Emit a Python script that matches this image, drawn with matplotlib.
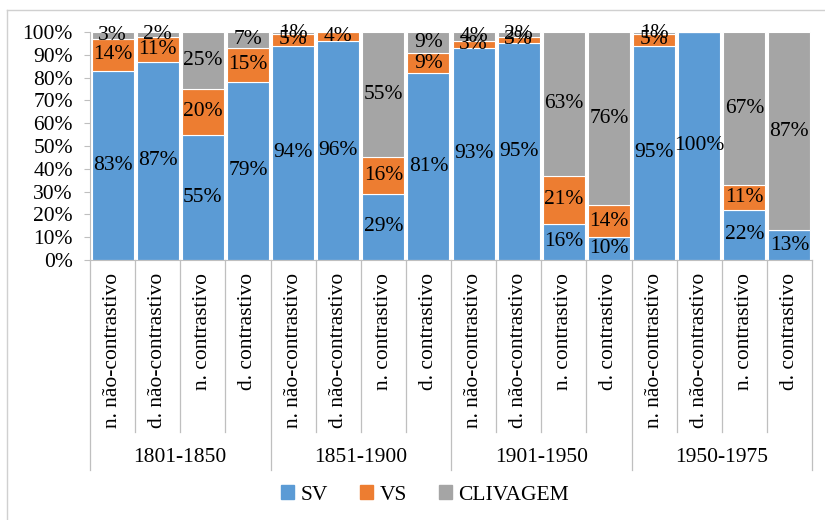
import numpy as np
import matplotlib.pyplot as plt
from matplotlib.patches import Patch
from matplotlib.lines import Line2D

plt.rcParams['font.family'] = ['Liberation Serif', 'DejaVu Serif']

# Data (percent)
groups = ['1801-1850', '1851-1900', '1901-1950', '1950-1975']
cats = ['n. não-contrastivo', 'd. não-contrastivo', 'n. contrastivo', 'd. contrastivo']
sv = [83, 87, 55, 79, 94, 96, 29, 81, 93, 95, 16, 10, 95, 100, 22, 13]
vs = [14, 11, 20, 15, 5, 4, 16, 9, 3, 3, 21, 14, 5, 0, 11, 0]
cliv = [3, 2, 25, 7, 1, 0, 55, 9, 4, 2, 63, 76, 1, 0, 67, 87]
series = ['SV', 'VS', 'CLIVAGEM']
colors = ['#5B9BD5', '#ED7D31', '#A5A5A5']

vals = np.array([sv, vs, cliv], dtype=float)
tot = vals.sum(axis=0)
frac = vals / tot * 100
n = vals.shape[1]
x = np.arange(n)
fs = 15.5

fig = plt.figure(figsize=(8.25, 5.2), dpi=100)
ax = fig.add_axes([90 / 825, 1 - 260 / 520, 722 / 825, 228 / 520])

bottom = np.zeros(n)
for i in range(3):
    ax.bar(x, frac[i], 0.93, bottom=bottom, color=colors[i],
           edgecolor='white', linewidth=0.8)
    for j in range(n):
        if vals[i, j] > 0:
            ax.text(x[j], bottom[j] + frac[i, j] / 2, f'{int(vals[i, j])}%',
                    ha='center', va='center', fontsize=fs, color='black')
    bottom += frac[i]

ax.set_xlim(-0.5, n - 0.5)
ax.set_ylim(0, 100)
ax.set_yticks(np.arange(0, 101, 10))
ax.set_yticklabels([f'{v}%' for v in range(0, 101, 10)], fontsize=fs)
ax.tick_params(axis='y', length=4.3, width=0.8, color='#BFBFBF', pad=8)
ax.set_xticks([])
for s in ['top', 'right']:
    ax.spines[s].set_visible(False)
ax.spines['left'].set_color('#BFBFBF')
ax.spines['bottom'].set_color('#BFBFBF')

# multi-level category axis
trans = ax.get_xaxis_transform()
cat_bot = (260 - 432) / 228
grp_bot = (260 - 470) / 228
for j in range(n):
    ax.text(x[j], -0.057, cats[j % 4], rotation=90, ha='center', va='top',
            fontsize=fs, transform=trans)
for b in np.arange(-0.5, n, 1.0):
    if int(b + 0.5) % 4 == 0:
        y0 = grp_bot
    else:
        y0 = cat_bot
    ax.add_line(Line2D([b, b], [0, y0], color='#BFBFBF', lw=0.9,
                       transform=trans, clip_on=False))
for g, name in enumerate(groups):
    ax.text(g * 4 + 1.5, (260 - 458) / 228, name, ha='center', va='center',
            fontsize=fs, transform=trans)

handles = [Patch(color=c, label=s) for c, s in zip(colors, series)]
fig.legend(handles=handles, loc='center', bbox_to_anchor=(425 / 825, 1 - 495 / 520),
           ncol=3, frameon=False, fontsize=fs, handlelength=0.6, handleheight=0.6,
           handletextpad=0.3, columnspacing=1.5)

# chart border
fig.add_artist(Line2D([7 / 825, 7 / 825], [0, 1 - 10 / 520], color='#D0D0D0', lw=1))
fig.add_artist(Line2D([7 / 825, 1], [1 - 10 / 520, 1 - 10 / 520], color='#D0D0D0', lw=1))

fig.savefig('out.png', dpi=100)
